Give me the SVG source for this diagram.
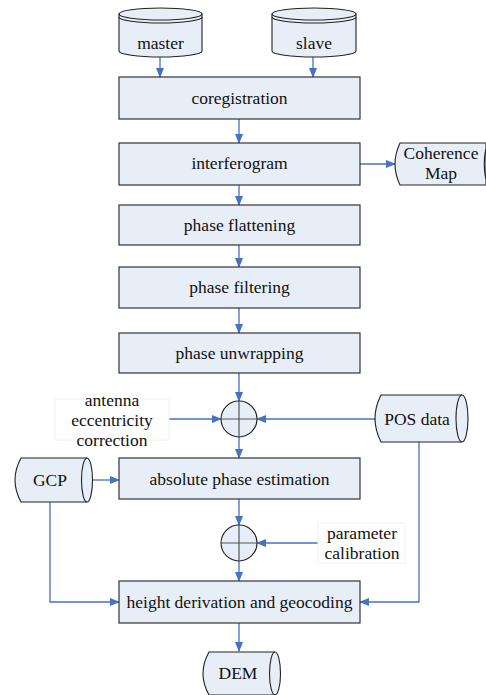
<svg xmlns="http://www.w3.org/2000/svg" width="486" height="695" viewBox="0 0 486 695" font-family="'Liberation Serif', 'Times New Roman', serif">
<defs>
<marker id="ah" markerWidth="10" markerHeight="8" refX="9" refY="4" orient="auto" markerUnits="userSpaceOnUse">
<path d="M0,0 L10,4 L0,8 Z" fill="#4472C4"/>
</marker>
<style>
.box{fill:#E8EEF7;stroke:#333;stroke-width:1.2}
.sh{fill:#E8EEF7;stroke:#222;stroke-width:1.1}
.ln{fill:none;stroke:#222;stroke-width:1.1}
.t{font-family:'Liberation Serif','Times New Roman',serif;font-size:17.5px;fill:#111;text-anchor:middle}
.ca{fill:none;stroke:#4472C4;stroke-width:1.3;marker-end:url(#ah)}
.x{stroke:#555;stroke-width:1.2}
.lb{fill:#fff;stroke:#f0f0f0;stroke-width:1}
</style>
</defs>
<rect width="486" height="695" fill="#fff"/>

<g id="connectors">
<line class="ca" x1="160" y1="57" x2="160" y2="77"/>
<line class="ca" x1="313" y1="57" x2="313" y2="77"/>
<line class="ca" x1="239" y1="119" x2="239" y2="143"/>
<line class="ca" x1="360" y1="164" x2="395" y2="164"/>
<line class="ca" x1="239" y1="185" x2="239" y2="205"/>
<line class="ca" x1="239" y1="245" x2="239" y2="267"/>
<line class="ca" x1="239" y1="308" x2="239" y2="333"/>
<line class="ca" x1="239" y1="373" x2="239" y2="401"/>
<line class="ca" x1="169" y1="419" x2="221" y2="419"/>
<line class="ca" x1="375" y1="419" x2="257" y2="419"/>
<line class="ca" x1="239" y1="437" x2="239" y2="458"/>
<line class="ca" x1="92" y1="480" x2="119" y2="480"/>
<line class="ca" x1="239" y1="499" x2="239" y2="525"/>
<line class="ca" x1="318" y1="543" x2="257" y2="543"/>
<line class="ca" x1="239" y1="561" x2="239" y2="581"/>
<polyline class="ca" points="50,502 50,602 119,602"/>
<polyline class="ca" points="419,442 419,602 360,602"/>
<line class="ca" x1="239" y1="623" x2="239" y2="651"/>
</g>

<g id="master">
<path class="sh" d="M119,14 L119,51 A41.5,6 0 0 0 202,51 L202,14 Z"/>
<ellipse class="sh" cx="160.5" cy="14" rx="41.5" ry="6"/>
<path class="ln" d="M119,17 A41.5,6 0 0 0 202,17"/>
<text class="t" x="160.5" y="49">master</text>
</g>

<g id="slave">
<path class="sh" d="M272,14 L272,51 A42,6 0 0 0 356,51 L356,14 Z"/>
<ellipse class="sh" cx="314" cy="14" rx="42" ry="6"/>
<path class="ln" d="M272,17 A42,6 0 0 0 356,17"/>
<text class="t" x="314" y="49">slave</text>
</g>

<g id="coregistration">
<rect class="box" x="119" y="77" width="241" height="42"/>
<text class="t" x="239.5" y="104">coregistration</text>
</g>

<g id="interferogram">
<rect class="box" x="119" y="143" width="241" height="42"/>
<text class="t" x="239.5" y="169">interferogram</text>
</g>

<g id="coherence">
<path class="sh" d="M400,143 L486,143 L486,185 L400,185 Q390,164 400,143 Z"/>
<path class="ln" d="M486,149 A5,20 0 0 0 486,179"/>
<text class="t" x="441" y="159">Coherence</text>
<text class="t" x="441" y="179">Map</text>
</g>

<g id="flattening">
<rect class="box" x="119" y="205" width="241" height="40"/>
<text class="t" x="239.5" y="231">phase flattening</text>
</g>

<g id="filtering">
<rect class="box" x="119" y="267" width="241" height="41"/>
<text class="t" x="239.5" y="293">phase filtering</text>
</g>

<g id="unwrapping">
<rect class="box" x="119" y="333" width="241" height="40"/>
<text class="t" x="239.5" y="359">phase unwrapping</text>
</g>

<g id="antenna">
<rect class="lb" x="55" y="399" width="114" height="41"/>
<text class="t" x="112" y="406">antenna</text>
<text class="t" x="112" y="426">eccentricity</text>
<text class="t" x="112" y="446">correction</text>
</g>

<g id="sum1">
<circle class="sh" cx="239" cy="419" r="18"/>
<line class="x" x1="221" y1="419" x2="257" y2="419"/>
<line class="x" x1="239" y1="401" x2="239" y2="437"/>
</g>

<g id="pos">
<path class="sh" d="M381,395 L462,395 A6,23.5 0 0 1 462,442 L381,442 Q369,418.5 381,395 Z"/>
<path class="ln" d="M462,395 A6,23.5 0 0 0 462,442"/>
<text class="t" x="417" y="425">POS data</text>
</g>

<g id="gcp">
<path class="sh" d="M21,458 L87,458 A5.5,22 0 0 1 87,502 L21,502 Q9,480 21,458 Z"/>
<path class="ln" d="M87,458 A5.5,22 0 0 0 87,502"/>
<text class="t" x="50" y="486">GCP</text>
</g>

<g id="absolute">
<rect class="box" x="119" y="458" width="241" height="41"/>
<text class="t" x="239.5" y="485">absolute phase estimation</text>
</g>

<g id="sum2">
<circle class="sh" cx="239" cy="543" r="18"/>
<line class="x" x1="221" y1="543" x2="257" y2="543"/>
<line class="x" x1="239" y1="525" x2="239" y2="561"/>
</g>

<g id="calibration">
<rect class="lb" x="318" y="523" width="87" height="40"/>
<text class="t" x="362" y="539">parameter</text>
<text class="t" x="362" y="559">calibration</text>
</g>

<g id="height">
<rect class="box" x="119" y="581" width="241" height="42"/>
<text class="t" x="239.5" y="608">height derivation and geocoding</text>
</g>

<g id="dem">
<path class="sh" d="M209,652 L275,652 A5.5,21.5 0 0 1 275,695 L209,695 Q197,673.5 209,652 Z"/>
<path class="ln" d="M275,652 A5.5,21.5 0 0 0 275,695"/>
<text class="t" x="238" y="679">DEM</text>
</g>
</svg>
